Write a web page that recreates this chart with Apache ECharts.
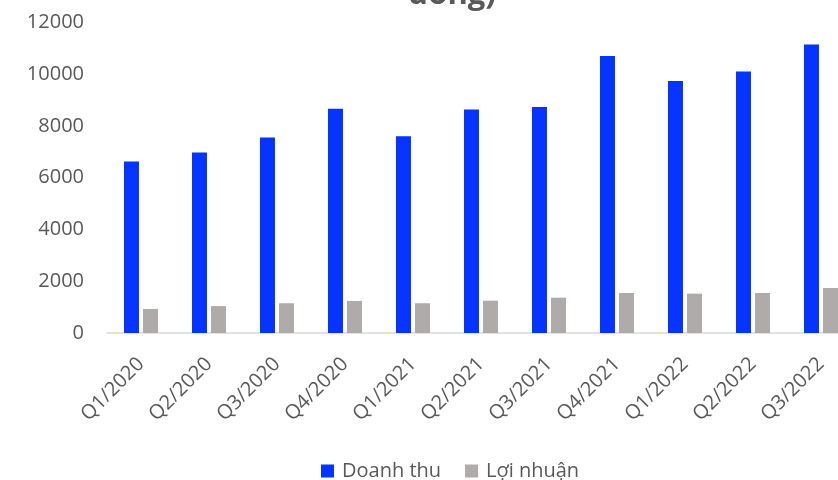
<!DOCTYPE html>
<html>
<head>
<meta charset="utf-8">
<script src="https://cdn.jsdelivr.net/npm/echarts@6/dist/echarts.min.js"></script>
<style>
  html, body { margin: 0; padding: 0; background: #fff; overflow: hidden; }
  #chart { width: 855px; height: 480px; }
</style>
</head>
<body>
<div id="chart"></div>
<script>
// Quarterly revenue and profit
const quarters = ['Q1/2020', 'Q2/2020', 'Q3/2020', 'Q4/2020', 'Q1/2021', 'Q2/2021',
                  'Q3/2021', 'Q4/2021', 'Q1/2022', 'Q2/2022', 'Q3/2022'];
const doanhThu = [6630, 6980, 7560, 8670, 7600, 8640, 8730, 10710, 9740, 10110, 11150];
const loiNhuan = [930, 1040, 1150, 1240, 1150, 1250, 1365, 1545, 1520, 1545, 1740];
const yTicks = { min: 0, max: 12000, interval: 2000 };

const textColor = '#595959';
const font = '"Open Sans", "Noto Sans", sans-serif';

const chart = echarts.init(document.getElementById('chart'));
chart.setOption({
  animation: false,
  textStyle: { fontFamily: font },
  title: {
    text: 'Doanh thu và lợi nhuận (tỷ\nđồng)',
    left: 447,
    top: -64,
    textAlign: 'center',
    textStyle: { fontFamily: font, fontSize: 31, fontWeight: 'bold', color: textColor, lineHeight: 36 }
  },
  legend: {
    top: 456,
    left: 316,
    itemWidth: 13,
    itemHeight: 13,
    itemGap: 24,
    icon: 'rect',
    textStyle: { fontFamily: font, fontSize: 20, color: textColor, padding: [0, 0, 0, 3] },
    data: ['Doanh thu', 'Lợi nhuận']
  },
  grid: { left: 107, top: 22.5, right: 0, height: 310.5, containLabel: false },
  xAxis: {
    type: 'category',
    data: quarters,
    axisLine: { lineStyle: { color: '#D9D9D9', width: 1.5 } },
    axisTick: { show: false },
    axisLabel: { rotate: 45, color: textColor, fontSize: 20, fontFamily: font, margin: 28, interval: 0 }
  },
  yAxis: {
    type: 'value',
    min: yTicks.min,
    max: yTicks.max,
    interval: yTicks.interval,
    splitLine: { show: false },
    axisLine: { show: false },
    axisTick: { show: false },
    axisLabel: {
      color: textColor, fontSize: 20, fontFamily: font, margin: 23,
      formatter: (v) => String(v)
    }
  },
  series: [
    {
      name: 'Doanh thu',
      type: 'bar',
      data: doanhThu,
      barWidth: 15,
      barGap: '27%',
      itemStyle: { color: '#0533FF' }
    },
    {
      name: 'Lợi nhuận',
      type: 'bar',
      data: loiNhuan,
      barWidth: 15,
      itemStyle: { color: '#AFABAB' }
    }
  ]
});
</script>
</body>
</html>
